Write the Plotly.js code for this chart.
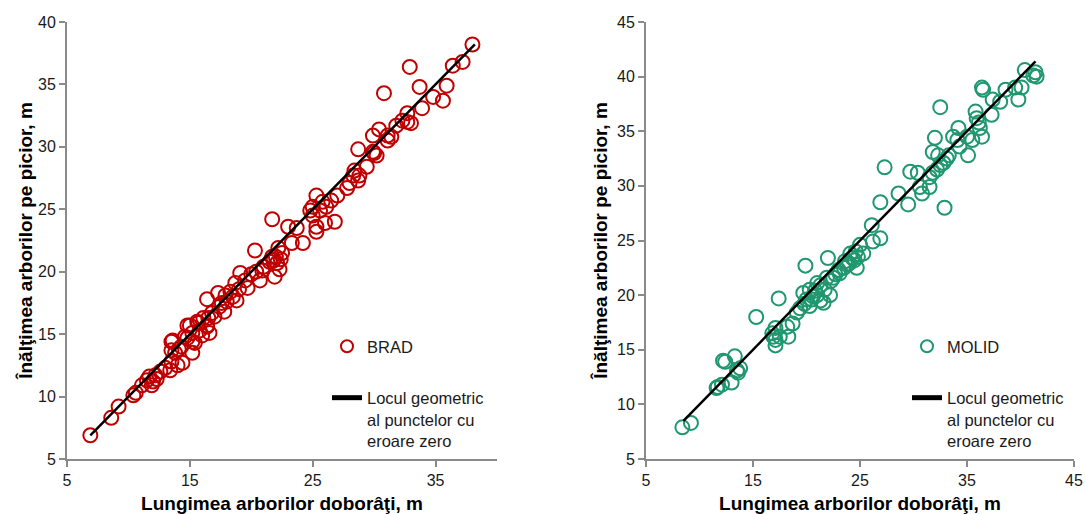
<!DOCTYPE html>
<html>
<head>
<meta charset="utf-8">
<script src="https://cdn.plot.ly/plotly-3.0.1.min.js"></script>
<style>
  html, body { margin: 0; padding: 0; background: #fff; }
  #chart { width: 1085px; height: 514px; }
</style>
</head>
<body>
<div id="chart"></div>
<script>
// Brad (fir): felled length vs standing height, m
const bradLength = [6.9, 8.6, 9.2, 10.4, 10.6, 11.1, 11.5, 11.9, 11.7, 12.2, 12.6, 13.0, 13.4, 14.0, 14.4, 13.5, 13.8, 13.5, 14.3, 14.8,
  15.2, 15.4, 16.0, 16.4, 14.8, 15.7, 16.5, 13.6, 15.2, 14.1, 13.5, 14.6, 15.2, 16.6, 15.8, 16.4, 15.0, 15.6, 16.1, 16.8,
  17.8, 17.4, 18.0, 18.8, 16.4, 17.3, 18.3, 18.7, 19.7, 19.1, 20.7, 21.9, 20.9, 22.1, 21.5, 21.7, 22.5, 22.2, 20.3, 23.3,
  24.2, 23.7, 23.0, 21.7, 25.3, 25.3, 26.0, 26.8, 25.0, 24.8, 25.6, 26.1, 25.0, 25.8, 26.5, 25.3, 27.0, 27.8, 28.0, 28.7,
  28.8, 28.3, 28.4, 29.4, 30.2, 30.0, 29.9, 28.7, 31.1, 31.1, 29.9, 30.4, 31.4, 31.8, 32.3, 32.7, 33.0, 32.7, 33.9, 34.8,
  35.6, 30.8, 33.7, 35.9, 32.9, 36.4, 37.2, 38.0, 18.5, 19.5, 20.0, 20.4, 21.0, 21.8, 22.0, 22.4, 19.0, 17.9, 12.3, 12.0,
  17.0, 17.6, 22.3];
const bradHeight = [6.9, 8.3, 9.2, 10.1, 10.3, 10.9, 11.3, 10.9, 11.6, 11.7, 12.0, 12.3, 12.1, 12.5, 12.7, 12.8, 13.5, 14.4, 14.0, 14.7,
  13.5, 14.3, 14.9, 15.6, 15.7, 15.9, 16.3, 14.5, 14.4, 13.8, 13.7, 14.8, 15.1, 15.1, 15.3, 15.7, 15.7, 16.0, 16.3, 16.7,
  16.8, 17.2, 17.6, 17.7, 17.8, 18.3, 18.4, 19.1, 18.7, 19.9, 19.3, 19.6, 20.1, 20.7, 20.8, 21.2, 21.5, 21.9, 21.7, 22.3,
  22.3, 23.5, 23.6, 24.2, 23.6, 23.2, 23.9, 24.0, 24.5, 24.9, 24.9, 25.2, 25.2, 25.6, 25.7, 26.1, 26.1, 26.7, 27.1, 27.3,
  27.7, 27.7, 28.1, 28.4, 29.3, 29.5, 29.6, 29.8, 30.5, 30.9, 30.9, 31.4, 30.8, 31.7, 32.1, 32.0, 31.9, 32.7, 33.1, 34.0,
  33.7, 34.3, 34.8, 34.9, 36.4, 36.5, 36.8, 38.2, 18.0, 19.3, 19.8, 20.0, 20.4, 20.9, 21.2, 21.0, 18.6, 18.1, 11.4, 11.2,
  16.4, 17.5, 20.2];

// Molid (spruce): felled length vs standing height, m
const molidLength = [8.4, 9.2, 11.7, 12.1, 13.0, 13.5, 13.8, 12.2, 13.3, 12.4, 11.6, 15.3, 17.4, 17.1, 16.8, 17.1, 17.1, 17.5, 18.2, 18.3,
  18.7, 19.1, 19.4, 19.9, 20.0, 20.6, 20.3, 21.3, 21.6, 21.7, 22.2, 22.0, 21.9, 22.5, 23.1, 23.8, 24.1, 24.5, 24.7, 25.3,
  25.0, 26.2, 26.9, 21.0, 20.3, 19.7, 26.1, 26.9, 27.3, 28.6, 29.5, 29.7, 30.4, 30.6, 30.8, 31.5, 31.5, 31.8, 32.0, 32.5,
  31.8, 32.2, 32.5, 32.8, 33.1, 33.3, 32.3, 32.9, 33.7, 34.2, 34.1, 34.3, 35.1, 35.0, 35.5, 36.4, 35.8, 35.9, 36.1, 36.2,
  36.4, 36.5, 37.3, 37.4, 38.1, 38.6, 39.5, 39.8, 40.1, 40.4, 41.2, 41.4, 41.5, 23.5, 24.0, 24.3, 23.0, 22.7, 24.8, 22.3,
  21.3, 20.8, 20.5, 19.8, 21.0, 13.6, 16.9, 23.6, 24.6];
const molidHeight = [7.9, 8.3, 11.6, 11.8, 12.0, 13.1, 13.3, 14.0, 14.4, 13.9, 11.5, 18.0, 19.7, 15.4, 16.5, 17.0, 15.9, 16.2, 17.1, 16.2,
  17.4, 18.4, 18.8, 22.7, 19.6, 19.9, 19.0, 19.5, 19.3, 20.5, 20.0, 23.4, 21.6, 21.6, 22.0, 22.8, 23.8, 23.2, 22.5, 23.8,
  24.6, 24.9, 25.2, 21.1, 20.5, 20.2, 26.4, 28.5, 31.7, 29.3, 28.3, 31.3, 31.2, 29.9, 29.3, 29.9, 30.8, 33.1, 34.4, 37.2,
  31.2, 31.5, 31.9, 32.1, 32.5, 32.8, 32.8, 28.0, 34.5, 35.3, 34.2, 33.6, 32.8, 34.5, 34.2, 34.5, 36.8, 36.2, 35.8, 35.3,
  39.0, 38.8, 36.5, 37.9, 37.7, 38.8, 39.0, 37.9, 39.0, 40.6, 40.1, 40.4, 40.0, 22.5, 22.9, 23.4, 22.3, 21.9, 23.5, 21.3,
  20.9, 20.4, 19.6, 19.2, 20.0, 12.9, 16.2, 23.1, 24.0];

// Zero-error locus (height = length) over each species' measured span
const zeroBrad = [6.9, 38.2];
const zeroMolid = [8.5, 41.4];

const seriesNames = ['BRAD', 'MOLID', 'Locul geometric<br>al punctelor cu<br>eroare zero'];
const xTitle = 'Lungimea arborilor doborâţi, m';
const yTitle = 'Înălţimea arborilor pe picior, m';

const red = '#C00000';
const green = '#1F976F';
const axisGrey = '#8A8A8A';
const W = 1085, H = 514;

function px(v) { return v / W; }
function py(v) { return 1 - v / H; }

const markerStyle = (c) => ({
  symbol: 'circle', size: 14, color: 'rgba(0,0,0,0)',
  line: { color: c, width: 2 }
});

const traces = [
  { x: bradLength, y: bradHeight, type: 'scatter', mode: 'markers', name: seriesNames[0],
    marker: markerStyle(red), xaxis: 'x', yaxis: 'y', legend: 'legend', legendgroup: 'a' },
  { x: zeroBrad, y: zeroBrad, type: 'scatter', mode: 'lines', name: seriesNames[2],
    line: { color: '#000', width: 2.5 }, xaxis: 'x', yaxis: 'y', legend: 'legend', legendgroup: 'b' },
  { x: molidLength, y: molidHeight, type: 'scatter', mode: 'markers', name: seriesNames[1],
    marker: markerStyle(green), xaxis: 'x2', yaxis: 'y2', legend: 'legend2', legendgroup: 'c' },
  { x: zeroMolid, y: zeroMolid, type: 'scatter', mode: 'lines', name: seriesNames[2],
    line: { color: '#000', width: 2.5 }, xaxis: 'x2', yaxis: 'y2', legend: 'legend2', legendgroup: 'd' }
];

const tickFont = { family: 'Liberation Sans, Arial, sans-serif', size: 16, color: '#1a1a1a' };
const titleFont = { family: 'Liberation Sans, Arial, sans-serif', size: 19, color: '#000', weight: 'bold' };

function xAxis(domain, range, anchor) {
  return {
    domain: domain, range: range, anchor: anchor, tick0: 5, dtick: 10,
    showgrid: false, zeroline: false, showline: true, linecolor: axisGrey, linewidth: 2,
    ticks: 'outside', ticklen: 6, tickwidth: 2, tickcolor: axisGrey,
    tickfont: tickFont, automargin: false,
    title: { text: xTitle, font: titleFont, standoff: 8 }
  };
}
function yAxis(domain, range, anchor, standoff) {
  return {
    domain: domain, range: range, anchor: anchor, tick0: 5, dtick: 5,
    showgrid: false, zeroline: false, showline: true, linecolor: axisGrey, linewidth: 2,
    ticks: 'outside', ticklen: 6, tickwidth: 2, tickcolor: axisGrey,
    tickfont: tickFont, automargin: false,
    title: { text: yTitle, font: titleFont, standoff: standoff }
  };
}

const legendBase = {
  font: { family: 'Liberation Sans, Arial, sans-serif', size: 16.5, color: '#1a1a1a' },
  bgcolor: 'rgba(0,0,0,0)', borderwidth: 0, valign: 'top',
  itemsizing: 'constant', itemwidth: 30, tracegroupgap: 27,
  xanchor: 'left', yanchor: 'top'
};

const yDom = [py(459), py(22)];

const layout = {
  width: W, height: H,
  margin: { l: 0, r: 0, t: 0, b: 0 },
  paper_bgcolor: '#fff', plot_bgcolor: '#fff',
  showlegend: true,
  xaxis: xAxis([px(67), px(497)], [5, 40], 'y'),
  yaxis: yAxis(yDom, [5, 40], 'x', 0),
  xaxis2: xAxis([px(646), px(1074)], [5, 45], 'y2'),
  yaxis2: yAxis(yDom, [5, 45], 'x2', 4),
  legend: Object.assign({}, legendBase, { x: px(327), y: py(329) }),
  legend2: Object.assign({}, legendBase, { x: px(907), y: py(329) })
};

Plotly.newPlot('chart', traces, layout, { displayModeBar: false, staticPlot: true });
</script>
</body>
</html>
